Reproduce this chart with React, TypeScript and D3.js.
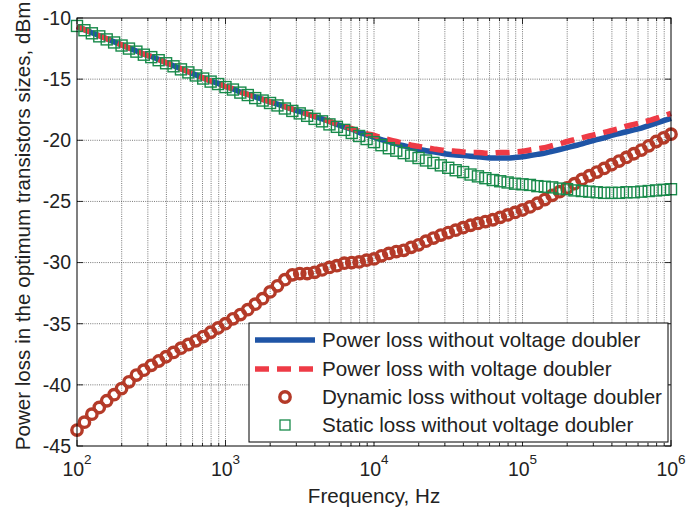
import React from "react";
import * as d3 from "d3";

const logFreq = [
  2.0, 2.05, 2.1, 2.15, 2.2, 2.25, 2.3, 2.35, 2.4, 2.45,
  2.5, 2.55, 2.6, 2.65, 2.7, 2.75, 2.8, 2.85, 2.9, 2.95,
  3.0, 3.05, 3.1, 3.15, 3.2, 3.25, 3.3, 3.35, 3.4, 3.45,
  3.5, 3.55, 3.6, 3.65, 3.7, 3.75, 3.8, 3.85, 3.9, 3.95,
  4.0, 4.05, 4.1, 4.15, 4.2, 4.25, 4.3, 4.35, 4.4, 4.45,
  4.5, 4.55, 4.6, 4.65, 4.7, 4.75, 4.8, 4.85, 4.9, 4.95,
  5.0, 5.05, 5.1, 5.15, 5.2, 5.25, 5.3, 5.35, 5.4, 5.45,
  5.5, 5.55, 5.6, 5.65, 5.7, 5.75, 5.8, 5.85, 5.9, 5.95,
  6.0,
];

const powerLossNoDoubler = [
  -10.7, -10.95, -11.2, -11.45, -11.7, -11.95, -12.2, -12.45, -12.7, -12.95,
  -13.15, -13.4, -13.65, -13.9, -14.15, -14.4, -14.65, -14.9, -15.15, -15.35,
  -15.6, -15.8, -16.05, -16.25, -16.45, -16.65, -16.85, -17.05, -17.25, -17.45,
  -17.65, -17.85, -18.05, -18.25, -18.45, -18.7, -18.9, -19.1, -19.35, -19.55,
  -19.75, -19.95, -20.1, -20.3, -20.45, -20.6, -20.75, -20.85, -20.95, -21.05,
  -21.15, -21.2, -21.25, -21.3, -21.35, -21.4, -21.45, -21.45, -21.45, -21.4,
  -21.35, -21.25, -21.15, -21.05, -20.9, -20.75, -20.6, -20.45, -20.3, -20.1,
  -19.95, -19.8, -19.6, -19.45, -19.3, -19.15, -19.0, -18.8, -18.6, -18.4,
  -18.2,
];

const powerLossDoubler = [
  -10.7, -10.95, -11.2, -11.45, -11.7, -11.95, -12.2, -12.45, -12.7, -12.95,
  -13.15, -13.4, -13.65, -13.9, -14.15, -14.4, -14.65, -14.9, -15.15, -15.35,
  -15.6, -15.8, -16.05, -16.25, -16.45, -16.65, -16.85, -17.05, -17.25, -17.45,
  -17.65, -17.85, -18.05, -18.25, -18.45, -18.65, -18.85, -19.05, -19.25, -19.45,
  -19.6, -19.8, -19.95, -20.1, -20.25, -20.4, -20.5, -20.6, -20.7, -20.8,
  -20.85, -20.9, -20.95, -21.0, -21.0, -21.05, -21.05, -21.0, -21.0, -20.95,
  -20.9, -20.8, -20.7, -20.6, -20.45, -20.3, -20.1, -19.95, -19.8, -19.65,
  -19.5, -19.35, -19.2, -19.05, -18.85, -18.7, -18.55, -18.4, -18.2, -18.0,
  -17.8,
];

const dynamicLoss = [
  -43.7, -43.05, -42.4, -41.85, -41.3, -40.8, -40.3, -39.75, -39.2, -38.8,
  -38.4, -38.05, -37.7, -37.35, -37.0, -36.7, -36.4, -36.05, -35.7, -35.35,
  -35.0, -34.6, -34.25, -33.85, -33.4, -32.95, -32.4, -31.9, -31.4, -31.0,
  -30.9, -30.9, -30.8, -30.6, -30.4, -30.25, -30.05, -30.0, -29.95, -29.8,
  -29.7, -29.45, -29.25, -29.1, -29.0, -28.75, -28.55, -28.25, -28.0, -27.75,
  -27.55, -27.35, -27.15, -26.95, -26.8, -26.65, -26.5, -26.3, -26.1, -25.9,
  -25.7, -25.45, -25.15, -24.85, -24.5, -24.2, -23.9, -23.55, -23.2, -22.9,
  -22.6, -22.3, -22.0, -21.7, -21.4, -21.1, -20.8, -20.45, -20.1, -19.8,
  -19.5,
];

const staticLoss = [
  -10.65, -11.0, -11.25, -11.5, -11.75, -12.0, -12.25, -12.5, -12.75, -13.0,
  -13.2, -13.45, -13.7, -13.95, -14.2, -14.45, -14.7, -14.95, -15.2, -15.4,
  -15.65, -15.85, -16.1, -16.3, -16.55, -16.75, -16.95, -17.15, -17.4, -17.6,
  -17.8, -18.0, -18.25, -18.45, -18.7, -18.9, -19.15, -19.4, -19.65, -19.9,
  -20.15, -20.4, -20.65, -20.85, -21.05, -21.25, -21.45, -21.65, -21.85, -22.05,
  -22.25, -22.45, -22.6, -22.8, -22.95, -23.1, -23.25, -23.35, -23.45, -23.55,
  -23.6, -23.65, -23.75, -23.8, -23.85, -23.95, -24.0, -24.1, -24.15, -24.2,
  -24.25, -24.3, -24.3, -24.3, -24.25, -24.25, -24.2, -24.15, -24.1, -24.05,
  -24.0,
];

const yTicks = [-10, -15, -20, -25, -30, -35, -40, -45];
const xDecades = [2, 3, 4, 5, 6];
const minorMultipliers = [2, 3, 4, 5, 6, 7, 8, 9];
const legendLabels = [
  "Power loss without voltage doubler",
  "Power loss with voltage doubler",
  "Dynamic loss without voltage doubler",
  "Static loss without voltage doubler",
];
const xTitle = "Frequency, Hz";
const yTitle = "Power loss in the optimum transistors sizes, dBm";

const COLORS = {
  blue: "#1f55a6",
  red: "#ee3b46",
  circle: "#b43a28",
  green: "#188a4a",
};

export default function App() {
  const W = 686;
  const H = 516;
  const left = 77;
  const right = 671;
  const top = 18;
  const bottom = 446;
  const font = "'Liberation Sans', Arial, Helvetica, sans-serif";
  const tickFs = 19.5;
  const labelFs = 20.6;

  const x = d3.scaleLog().domain([1e2, 1e6]).range([left, right]);
  const y = d3.scaleLinear().domain([-45, -10]).range([bottom, top]);
  const freq = logFreq.map((l) => Math.pow(10, l));

  const mk = (vals: number[]) =>
    d3
      .line<number>()
      .x((_, i) => x(freq[i]))
      .y((v) => y(v))
      .curve(d3.curveMonotoneX)(vals) as string;

  const minorTicks: number[] = [];
  xDecades.slice(0, -1).forEach((d) =>
    minorMultipliers.forEach((m) => minorTicks.push(m * Math.pow(10, d)))
  );
  const majorTicks = xDecades.map((d) => Math.pow(10, d));

  const gridStyle = { stroke: "#555", strokeWidth: 0.8, strokeDasharray: "1,1.2" };

  const lg = { x0: 249, y0: 323, x1: 668, y1: 442 };
  const rowY = [340, 369, 397, 425];

  return (
    <svg
      width={W}
      height={H}
      style={{ position: "absolute", left: 0, top: 0, background: "#fff" }}
      fontFamily={font}
    >
      <rect x={0} y={0} width={W} height={H} fill="#fff" />
      <g>
        {minorTicks.map((t, i) => (
          <line key={"gm" + i} x1={x(t)} x2={x(t)} y1={top} y2={bottom} {...gridStyle} />
        ))}
        {majorTicks.slice(1, -1).map((t, i) => (
          <line key={"gM" + i} x1={x(t)} x2={x(t)} y1={top} y2={bottom} {...gridStyle} />
        ))}
        {yTicks.slice(1, -1).map((t, i) => (
          <line key={"gy" + i} x1={left} x2={right} y1={y(t)} y2={y(t)} {...gridStyle} />
        ))}
      </g>
      <g stroke="#000" strokeWidth={0.8}>
        {minorTicks.map((t, i) => (
          <g key={"tm" + i}>
            <line x1={x(t)} x2={x(t)} y1={bottom} y2={bottom - 3} />
            <line x1={x(t)} x2={x(t)} y1={top} y2={top + 3} />
          </g>
        ))}
        {majorTicks.map((t, i) => (
          <g key={"tM" + i}>
            <line x1={x(t)} x2={x(t)} y1={bottom} y2={bottom - 6} />
            <line x1={x(t)} x2={x(t)} y1={top} y2={top + 6} />
          </g>
        ))}
        {yTicks.map((t, i) => (
          <g key={"ty" + i}>
            <line x1={left} x2={left + 6} y1={y(t)} y2={y(t)} />
            <line x1={right} x2={right - 6} y1={y(t)} y2={y(t)} />
          </g>
        ))}
      </g>
      <path d={mk(powerLossNoDoubler)} fill="none" stroke={COLORS.blue} strokeWidth={5.5} />
      <path
        d={mk(powerLossDoubler)}
        fill="none"
        stroke={COLORS.red}
        strokeWidth={5.5}
        strokeDasharray="14,8"
      />
      <g>
        {dynamicLoss.map((v, i) => (
          <circle
            key={"c" + i}
            cx={x(freq[i])}
            cy={y(v)}
            r={5.2}
            fill="none"
            stroke={COLORS.circle}
            strokeWidth={3.4}
          />
        ))}
      </g>
      <g>
        {staticLoss.map((v, i) => (
          <rect
            key={"s" + i}
            x={x(freq[i]) - 5.5}
            y={y(v) - 5.5}
            width={11}
            height={11}
            fill="none"
            stroke={COLORS.green}
            strokeWidth={1.4}
          />
        ))}
      </g>
      <rect x={left} y={top} width={right - left} height={bottom - top} fill="none" stroke="#000" strokeWidth={1} />
      {yTicks.map((t, i) => (
        <text
          key={"yl" + i}
          x={left - 6}
          y={y(t)}
          dy="0.35em"
          textAnchor="end"
          fontSize={tickFs}
          fill="#222"
        >
          {t}
        </text>
      ))}
      {xDecades.map((d, i) => (
        <text key={"xl" + i} x={x(Math.pow(10, d))} y={476} textAnchor="middle" fontSize={tickFs} fill="#222">
          10
          <tspan dy={-12} fontSize={13.5}>
            {d}
          </tspan>
        </text>
      ))}
      <text x={(left + right) / 2} y={503} textAnchor="middle" fontSize={labelFs} fill="#222">
        {xTitle}
      </text>
      <text
        transform={`translate(30,${(top + bottom) / 2 - 6}) rotate(-90)`}
        textAnchor="middle"
        fontSize={labelFs}
        fill="#222"
      >
        {yTitle}
      </text>
      <rect x={lg.x0} y={lg.y0} width={lg.x1 - lg.x0} height={lg.y1 - lg.y0} fill="#fff" stroke="#000" strokeWidth={1} />
      <line x1={255} x2={315} y1={rowY[0]} y2={rowY[0]} stroke={COLORS.blue} strokeWidth={5.5} />
      <line
        x1={255}
        x2={315}
        y1={rowY[1]}
        y2={rowY[1]}
        stroke={COLORS.red}
        strokeWidth={5.5}
        strokeDasharray="14,8"
      />
      <circle cx={285} cy={rowY[2]} r={5.2} fill="none" stroke={COLORS.circle} strokeWidth={3.4} />
      <rect x={280} y={rowY[3] - 5} width={10} height={10} fill="none" stroke={COLORS.green} strokeWidth={1.3} />
      {legendLabels.map((l, i) => (
        <text key={"lg" + i} x={322} y={rowY[i]} dy="0.35em" fontSize={labelFs} fill="#222">
          {l}
        </text>
      ))}
    </svg>
  );
}
